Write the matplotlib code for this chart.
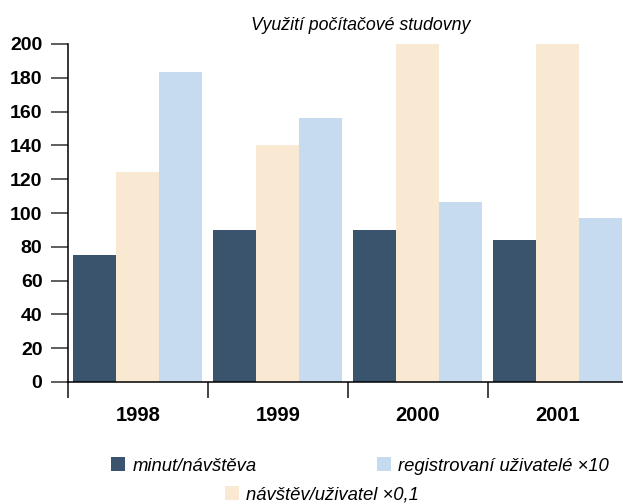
import matplotlib
matplotlib.use("Agg")
import matplotlib.pyplot as plt
import numpy as np
from matplotlib.patches import Patch

# ── Data ──────────────────────────────────────────────────────────────────────
years = ["1998", "1999", "2000", "2001"]
minut_navsteva = [75, 90, 90, 84]
navstev_uzivatel = [124, 140, 200, 200]      # x0,1 (2000/2001 cut at 200)
registrovani = [183.5, 156, 106.5, 97]       # x10

series_labels = ["minut/návštěva", "návštěv/uživatel ×0,1", "registrovaní uživatelé ×10"]
colors = ["#3A546E", "#FAE9D2", "#C6DAF0"]

plt.rcParams["font.family"] = ["Liberation Sans Narrow", "Liberation Sans", "DejaVu Sans"]

W, H = 623, 504
fig = plt.figure(figsize=(W / 100, H / 100), dpi=100)
ax = fig.add_axes([67.7 / W, 122 / H, 560 / W, 338 / H])

x = np.arange(len(years))
bw = 0.307
for k, (vals, col) in enumerate(zip([minut_navsteva, navstev_uzivatel, registrovani], colors)):
    ax.bar(x + (k - 1) * bw, vals, width=bw, color=col, linewidth=0, zorder=2)

ax.set_xlim(-0.5, len(years) - 0.5)
ax.set_ylim(0, 200)
ax.set_yticks(np.arange(0, 201, 20))
ax.tick_params(axis="y", length=12.2, width=1.1, pad=6, labelsize=14, color="#333333")
for lab in ax.get_yticklabels():
    lab.set_fontweight("bold")

ax.set_xticks(x)
ax.set_xticklabels(years, fontsize=14.5, fontweight="bold")
ax.tick_params(axis="x", which="major", length=0, pad=17)
ax.set_xticks(np.arange(len(years)) - 0.5, minor=True)
ax.tick_params(axis="x", which="minor", length=11.5, width=1.1, color="#111111")

for s in ["top", "right"]:
    ax.spines[s].set_visible(False)
ax.spines["left"].set_linewidth(1.1)
ax.spines["bottom"].set_linewidth(1.1)

fig.text(361 / W, 1 - 25 / H, "Využití počítačové studovny", ha="center", va="center",
         fontsize=12.8, style="italic")

handles = [Patch(facecolor=c, edgecolor="none") for c in colors]
leg_kw = dict(frameon=False, prop=dict(size=13.3, style="italic"), borderpad=0,
              handlelength=0.76, handleheight=0.76, handletextpad=0.4)
fig.legend([handles[0], handles[2]], [series_labels[0], series_labels[2]], ncol=2,
           loc="center", bbox_to_anchor=(360 / W, 1 - 466 / H), columnspacing=6.5, **leg_kw)
fig.legend([handles[1]], [series_labels[1]], loc="center",
           bbox_to_anchor=(322 / W, 1 - 495 / H), **leg_kw)

fig.savefig("out.png", dpi=100)
